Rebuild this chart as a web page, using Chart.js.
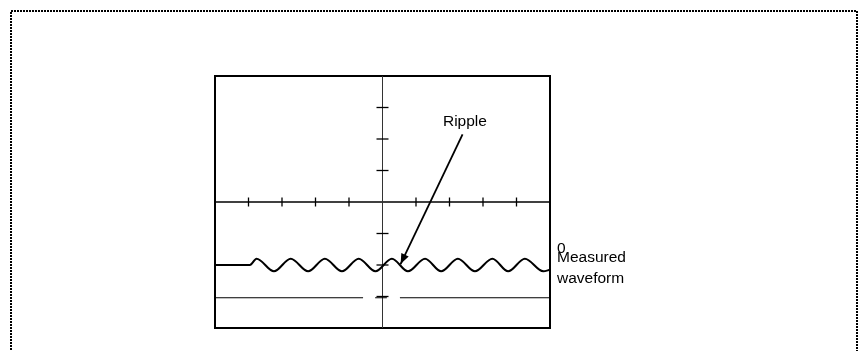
<!DOCTYPE html>
<html>
<head>
<meta charset="utf-8">
<script src="https://cdn.jsdelivr.net/npm/chart.js@4/dist/chart.umd.min.js"></script>
<style>
html,body{margin:0;padding:0;background:#fff;}
#wrap{width:861px;height:351px;position:relative;}
</style>
</head>
<body>
<div id="wrap"><canvas id="c" width="861" height="351"></canvas></div>
<script>
// Measured waveform: flat segment then ripple (peaks / troughs), in divisions
const waveX = [-5, -3.96, -3.76, -3.24, -2.74, -2.22, -1.72, -1.21, -0.71, -0.21, 0.28, 0.76, 1.27, 1.75, 2.25, 2.76, 3.28, 3.75, 4.25, 4.8, 5];
const waveY = [-2.0, -2.0, -1.8, -2.2, -1.8, -2.2, -1.8, -2.2, -1.8, -2.2, -1.8, -2.2, -1.8, -2.2, -1.8, -2.2, -1.8, -2.2, -1.8, -2.2, -2.15];
// Zero reference line (broken around the centre)
const zeroX = [-5, -0.58, null, -0.22, 0.13, null, 0.52, 5];
const zeroY = [-3.04, -3.04, null, -3.04, -3.04, null, -3.04, -3.04];
// Ripple pointer arrow (start -> tip)
const arrowX = [2.39, 0.54];
const arrowY = [2.15, -1.97];
// Graticule ticks
const xTicks = [-4, -3, -2, -1, 1, 2, 3, 4];
const yTicks = [3, 2, 1, -1, -2, -3];
const labelRipple = "Ripple";
const labelRight = ["0", "Measured", "waveform"];

const toPts = (xs, ys) => xs.map((x, i) => (x === null ? {x: NaN, y: null} : {x: x, y: ys[i]}));

const FONT = '15.5px "Liberation Sans", Arial, sans-serif';

const deco = {
  id: 'deco',
  beforeDatasetsDraw(chart) {
    const ctx = chart.ctx, a = chart.chartArea;
    const xs = chart.scales.x, ys = chart.scales.y;
    ctx.save();
    // outer dotted frame
    ctx.strokeStyle = '#000';
    ctx.lineWidth = 2;
    ctx.setLineDash([2, 1]);
    ctx.strokeRect(11, 11, 846, 360);
    ctx.setLineDash([]);
    // box
    ctx.lineWidth = 2;
    ctx.strokeRect(a.left, a.top, a.right - a.left, a.bottom - a.top);
    // centre horizontal axis
    const y0 = ys.getPixelForValue(0), x0 = xs.getPixelForValue(0);
    ctx.lineWidth = 1.5;
    ctx.beginPath(); ctx.moveTo(a.left, y0); ctx.lineTo(a.right, y0); ctx.stroke();
    // centre vertical axis
    ctx.lineWidth = 1;
    ctx.strokeStyle = '#333';
    ctx.beginPath(); ctx.moveTo(x0, a.top); ctx.lineTo(x0, a.bottom); ctx.stroke();
    ctx.strokeStyle = '#000';
    ctx.lineWidth = 1.3;
    xTicks.forEach(v => {
      const px = xs.getPixelForValue(v);
      ctx.beginPath(); ctx.moveTo(px, y0 - 4.5); ctx.lineTo(px, y0 + 4.5); ctx.stroke();
    });
    yTicks.forEach(v => {
      const py = ys.getPixelForValue(v);
      ctx.beginPath(); ctx.moveTo(x0 - 6, py); ctx.lineTo(x0 + 6, py); ctx.stroke();
    });
    ctx.restore();
  },
  afterDatasetsDraw(chart) {
    const ctx = chart.ctx, a = chart.chartArea;
    const xs = chart.scales.x, ys = chart.scales.y;
    ctx.save();
    // arrow head
    const sx = xs.getPixelForValue(arrowX[0]), sy = ys.getPixelForValue(arrowY[0]);
    const tx = xs.getPixelForValue(arrowX[1]), ty = ys.getPixelForValue(arrowY[1]);
    const ang = Math.atan2(ty - sy, tx - sx);
    const L = 11, W = 0.38;
    ctx.fillStyle = '#000';
    ctx.beginPath();
    ctx.moveTo(tx, ty);
    ctx.lineTo(tx - L * Math.cos(ang - W), ty - L * Math.sin(ang - W));
    ctx.lineTo(tx - L * Math.cos(ang + W), ty - L * Math.sin(ang + W));
    ctx.closePath(); ctx.fill();
    // texts
    ctx.font = FONT;
    ctx.textBaseline = 'alphabetic';
    ctx.textAlign = 'center';
    ctx.fillText(labelRipple, xs.getPixelForValue(2.46), ys.getPixelForValue(2.41));
    ctx.textAlign = 'left';
    const lx = a.right + 7;
    const base = ys.getPixelForValue(-2);
    ctx.fillText(labelRight[0], lx, base - 12);
    ctx.fillText(labelRight[1], lx, base - 3.5);
    ctx.fillText(labelRight[2], lx, base + 18);
    ctx.restore();
  }
};

new Chart(document.getElementById('c'), {
  type: 'scatter',
  data: {
    datasets: [
      { data: toPts(waveX, waveY), showLine: true, borderColor: '#000', borderWidth: 2, pointRadius: 0, cubicInterpolationMode: 'monotone', fill: false },
      { data: toPts(zeroX, zeroY), showLine: true, borderColor: '#000', borderWidth: 1.2, pointRadius: 0, spanGaps: false, fill: false },
      { data: toPts(arrowX, arrowY), showLine: true, borderColor: '#000', borderWidth: 1.8, pointRadius: 0, fill: false }
    ]
  },
  options: {
    responsive: false,
    animation: false,
    devicePixelRatio: 1,
    layout: { padding: { left: 215, right: 311, top: 76, bottom: 23 } },
    plugins: { legend: { display: false }, tooltip: { enabled: false } },
    scales: {
      x: { type: 'linear', min: -5, max: 5, display: false },
      y: { type: 'linear', min: -4, max: 4, display: false }
    }
  },
  plugins: [deco]
});
</script>
</body>
</html>
